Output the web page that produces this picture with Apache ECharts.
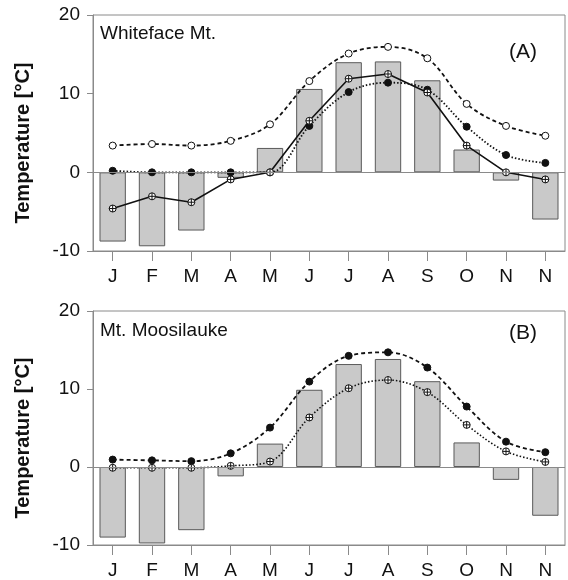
<!DOCTYPE html>
<html>
<head>
<meta charset="utf-8">
<title>Whiteface / Moosilauke temperatures</title>
<script src="https://cdn.jsdelivr.net/npm/echarts@6/dist/echarts.min.js"></script>
<style>
	html, body { margin: 0; padding: 0; background: #fff; }
	#main { width: 568px; height: 580px; }
</style>
</head>
<body>
<div id="main"></div>
<script>
	// month labels (the last one really is "N" in the figure)
	var months = ['J', 'F', 'M', 'A', 'M', 'J', 'J', 'A', 'S', 'O', 'N', 'N'];
	var yTicks = [-10, 0, 10, 20];

	// (A) Whiteface Mt.
	var wfBar = [-8.8, -9.4, -7.4, -0.7, 3.1, 10.6, 14.0, 14.1, 11.7, 2.9, -1.05, -6.0];
	var wfOpen = [3.4, 3.6, 3.4, 4.0, 6.1, 11.6, 15.1, 15.95, 14.5, 8.7, 5.9, 4.65];
	var wfFilled = [0.2, 0, 0, 0, 0, 5.9, 10.2, 11.4, 10.5, 5.8, 2.2, 1.2];
	var wfCross = [-4.6, -3.05, -3.8, -0.9, 0, 6.55, 11.9, 12.5, 10.15, 3.4, 0, -0.9];

	// (B) Mt. Moosilauke
	var mmBar = [-9.05, -9.8, -8.1, -1.2, 3.0, 9.9, 13.2, 13.85, 11.0, 3.15, -1.65, -6.25];
	var mmFilled = [0.95, 0.85, 0.75, 1.75, 5.05, 10.95, 14.25, 14.7, 12.75, 7.75, 3.25, 1.9];
	var mmCross = [-0.1, -0.1, -0.1, 0.15, 0.7, 6.35, 10.1, 11.15, 9.6, 5.4, 2.0, 0.65];

	var FONT = 'Liberation Sans, Arial, sans-serif';
	var INK = '#111';
	var FRAME = '#8a8a8a';
	var crossSymbol = 'path://M0,10 A10,10 0 1,1 20,10 A10,10 0 1,1 0,10 Z M10,0 L10,20 M0,10 L20,10';

	var myChart = echarts.init(document.getElementById('main'));

	function xAxisFor(idx) {
		return {
			type: 'category',
			gridIndex: idx,
			data: months,
			position: 'bottom',
			axisLine: { show: true, onZero: false, lineStyle: { color: FRAME, width: 1 } },
			axisTick: { show: true, alignWithLabel: true, length: 10, lineStyle: { color: FRAME } },
			axisLabel: { color: INK, fontSize: 19, fontFamily: FONT, margin: 16 },
			splitLine: { show: false }
		};
	}

	function yAxisFor(idx) {
		return {
			type: 'value',
			gridIndex: idx,
			min: yTicks[0],
			max: yTicks[yTicks.length - 1],
			interval: 10,
			name: 'Temperature [°C]',
			nameLocation: 'middle',
			nameGap: 60,
			// right padding nudges the rotated name a little down, as in the figure
			nameTextStyle: { color: INK, fontSize: 20, fontWeight: 'bold', fontFamily: FONT, padding: [0, 20, 0, 0] },
			axisLine: { show: true, lineStyle: { color: FRAME, width: 1 } },
			axisTick: { show: true, length: 6, lineStyle: { color: FRAME } },
			axisLabel: { color: INK, fontSize: 19, fontFamily: FONT, margin: 13 },
			splitLine: { show: false }
		};
	}

	function barSeries(idx, data) {
		return {
			type: 'bar',
			xAxisIndex: idx,
			yAxisIndex: idx,
			data: data,
			barWidth: '67%',
			itemStyle: { color: '#c9c9c9', borderColor: '#5a5a5a', borderWidth: 1 },
			silent: true,
			z: 1,
			markLine: {
				silent: true,
				symbol: 'none',
				label: { show: false },
				lineStyle: { color: FRAME, type: 'solid', width: 1 },
				data: [{ yAxis: 0 }]
			}
		};
	}

	function lineSeries(idx, data, opts) {
		return {
			type: 'line',
			xAxisIndex: idx,
			yAxisIndex: idx,
			data: data,
			smooth: opts.smooth,
			symbol: opts.symbol,
			symbolSize: opts.size || 7,
			showAllSymbol: true,
			lineStyle: { color: INK, width: opts.width || 1.6, type: opts.dash },
			itemStyle: { color: opts.fill, borderColor: INK, borderWidth: 1 },
			silent: true,
			z: opts.z || 3
		};
	}

	var titleStyle = function (size) {
		return { fontSize: size, fontWeight: 'normal', color: INK, fontFamily: FONT };
	};

	var option = {
		animation: false,
		backgroundColor: '#fff',
		title: [
			{ text: 'Whiteface Mt.', left: 95, top: 19, textStyle: titleStyle(19) },
			{ text: '(A)', left: 504, top: 37, textStyle: titleStyle(21) },
			{ text: 'Mt. Moosilauke', left: 95, top: 316, textStyle: titleStyle(19) },
			{ text: '(B)', left: 504, top: 318, textStyle: titleStyle(21) }
		],
		grid: [
			{ left: 93, right: 3, top: 15, height: 236, show: true, borderColor: FRAME, borderWidth: 1 },
			{ left: 93, right: 3, top: 311, height: 235, show: true, borderColor: FRAME, borderWidth: 1 }
		],
		xAxis: [xAxisFor(0), xAxisFor(1)],
		yAxis: [yAxisFor(0), yAxisFor(1)],
		series: [
			barSeries(0, wfBar),
			lineSeries(0, wfOpen, { smooth: 0.35, symbol: 'circle', fill: '#fff', dash: [4, 3], width: 1.8 }),
			lineSeries(0, wfFilled, { smooth: 0.35, symbol: 'circle', fill: INK, dash: [1.5, 2], width: 1.8 }),
			lineSeries(0, wfCross, { smooth: false, symbol: crossSymbol, fill: '#fff', dash: 'solid', width: 1.6, z: 4 }),

			barSeries(1, mmBar),
			lineSeries(1, mmFilled, { smooth: 0.35, symbol: 'circle', fill: INK, dash: [4, 3], width: 1.8 }),
			lineSeries(1, mmCross, { smooth: 0.35, symbol: crossSymbol, fill: '#fff', dash: [1.5, 2], width: 1.6 })
		]
	};
	myChart.setOption(option);
</script>
</body>
</html>
